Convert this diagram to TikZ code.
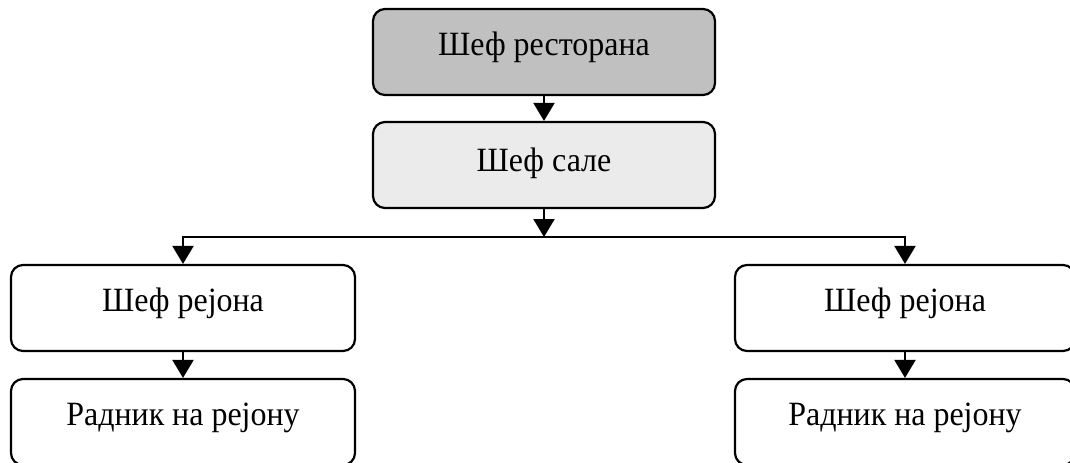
\documentclass[tikz,border=0pt]{standalone}
\usepackage{fontspec}
\setmainfont{Liberation Serif}[FakeStretch=0.94]
\usetikzlibrary{arrows.meta}
\definecolor{sivo}{RGB}{192,192,192}
\definecolor{svetlo}{RGB}{235,235,235}

\begin{document}
\begin{tikzpicture}[x=0.5pt,y=-0.5pt,
  kutija/.style={draw,line width=1.1pt,rounded corners=6pt,minimum height=43pt,
    font=\fontsize{17}{20}\selectfont,inner sep=0pt,text height=12pt,text depth=8.8pt},
  strela/.style={line width=1.1pt,-{Triangle[width=10.5pt,length=9pt]}}]
\useasboundingbox (0,0) rectangle (1070,462);
\clip (0,0) rectangle (1070,462);

\node[kutija,fill=sivo,minimum width=171pt] (restoran) at (544,52) {Шеф ресторана};
\node[kutija,fill=svetlo,minimum width=171pt,text depth=5.5pt] (sala) at (544,165) {Шеф сале};
\node[kutija,minimum width=172pt] (rejon1) at (183,308) {Шеф рејона};
\node[kutija,minimum width=172pt] (radnik1) at (183,422) {Радник на рејону};
\node[kutija,minimum width=170pt] (rejon2) at (905,308) {Шеф рејона};
\node[kutija,minimum width=170pt] (radnik2) at (905,422) {Радник на рејону};
\coordinate (grana) at (544,237);

\draw[strela] (restoran) -- (sala);
\draw[strela] (sala) -- (grana);
\draw[strela] (grana) -| (rejon1);
\draw[strela] (grana) -| (rejon2);
\draw[strela] (rejon1) -- (radnik1);
\draw[strela] (rejon2) -- (radnik2);
\end{tikzpicture}
\end{document}
